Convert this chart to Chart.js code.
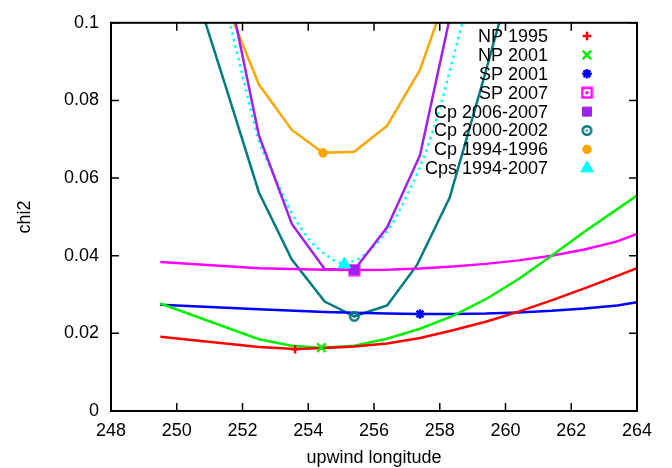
<!DOCTYPE html>
<html>
<head>
<meta charset="utf-8">
<script src="https://cdn.jsdelivr.net/npm/chart.js@4/dist/chart.umd.min.js"></script>
<style>
  html, body { margin: 0; padding: 0; background: #fff; }
  canvas { display: block; }
</style>
</head>
<body>
<canvas id="chi2Chart" width="672" height="468"></canvas>
<script>
// chi2 against upwind longitude, one curve per data set
const seriesLabels = ['NP 1995', 'NP 2001', 'SP 2001', 'SP 2007',
  'Cp 2006-2007', 'Cp 2000-2002', 'Cp 1994-1996', 'Cps 1994-2007'];

const np1995Lon = [249.5, 252.5, 253.6, 254.5, 255.4, 256.4, 257.4, 258.4, 259.4, 260.4, 261.4, 262.4, 263.4, 264];
const np1995Chi2 = [0.0191, 0.0165, 0.0160, 0.0162, 0.0166, 0.0174, 0.0188, 0.0208, 0.0230, 0.0256, 0.0285, 0.0316, 0.0348, 0.0368];

const np2001Lon = [249.5, 252.5, 253.5, 254.4, 255.4, 256.4, 257.4, 258.4, 259.4, 260.4, 261.4, 262.4, 263.4, 264];
const np2001Chi2 = [0.0277, 0.0185, 0.0168, 0.0163, 0.0168, 0.0186, 0.0212, 0.0245, 0.0288, 0.0340, 0.0400, 0.0462, 0.0520, 0.0555];

const spLon = [249.5, 252.5, 254.5, 255.4, 256.4, 257.4, 258.4, 259.4, 260.4, 261.4, 262.4, 263.4, 264];
const sp2001Chi2 = [0.0274, 0.0262, 0.0255, 0.0253, 0.0251, 0.0250, 0.0250, 0.0251, 0.0254, 0.0258, 0.0264, 0.0272, 0.0280];
const sp2007Chi2 = [0.0384, 0.0368, 0.0364, 0.0363, 0.0364, 0.0367, 0.0372, 0.0379, 0.0388, 0.0400, 0.0416, 0.0437, 0.0456];

const cp0607Lon = [251.5, 252.5, 253.5, 254.5, 255.4, 256.4, 257.4, 258.4];
const cp0607Chi2 = [0.112, 0.0710, 0.0482, 0.0366, 0.0363, 0.0473, 0.0659, 0.105];

const cp0002Lon = [250.5, 251.5, 252.5, 253.5, 254.5, 255.4, 256.4, 257.3, 258.3, 259.3, 260.3];
const cp0002Chi2 = [0.110, 0.0833, 0.0563, 0.0390, 0.0282, 0.0244, 0.0272, 0.0375, 0.0549, 0.0845, 0.115];

const cp9496Lon = [251.5, 252.5, 253.5, 254.45, 255.4, 256.4, 257.4, 258.4];
const cp9496Chi2 = [0.105, 0.0841, 0.0724, 0.0665, 0.0668, 0.0735, 0.0879, 0.112];

const cps9407Lon = [251.5, 252, 252.5, 253, 253.5, 254, 254.5, 255, 255.5, 256, 256.5, 257, 257.5, 258, 258.5, 259];
const cps9407Chi2 = [0.104, 0.0865, 0.0698, 0.0600, 0.0510, 0.0445, 0.0405, 0.0382, 0.0390, 0.0425, 0.0475, 0.0555, 0.065, 0.078, 0.094, 0.11];

// best-fit (minimum) point of each set, same order as seriesLabels
const minLon = [253.6, 254.4, 257.4, 255.4, 255.4, 255.4, 254.45, 255.1];
const minChi2 = [0.0159, 0.0163, 0.0250, 0.0363, 0.0363, 0.0244, 0.0665, 0.0378];

const xTicks = [248, 250, 252, 254, 256, 258, 260, 262, 264];
const yTicks = [0, 0.02, 0.04, 0.06, 0.08, 0.1];

const colors = ['#ff0000', '#00f000', '#0000ff', '#ff00ff', '#a020f0', '#007b80', '#ffa500', '#00ffff'];

const chartFont = { family: "'Liberation Sans', Arial, sans-serif", size: 18 };

// gnuplot-like open symbols with a dot in the middle
function ringDot(color) {
  const c = document.createElement('canvas');
  c.width = c.height = 13;
  const g = c.getContext('2d');
  g.strokeStyle = color; g.fillStyle = color; g.lineWidth = 2.4;
  g.beginPath(); g.arc(6.5, 6.5, 4.3, 0, Math.PI * 2); g.stroke();
  g.fillRect(5.5, 5.5, 2, 2);
  return c;
}
function squareDot(color) {
  const c = document.createElement('canvas');
  c.width = c.height = 13;
  const g = c.getContext('2d');
  g.strokeStyle = color; g.fillStyle = color; g.lineWidth = 2.4;
  g.strokeRect(1.7, 1.7, 9.6, 9.6);
  g.fillRect(5, 5, 3, 3);
  return c;
}

const markerStyles = [
  { pointStyle: 'cross', radius: 4.3 },
  { pointStyle: 'crossRot', radius: 6 },
  { pointStyle: 'star', radius: 4.8 },
  { pointStyle: squareDot(colors[3]), radius: 6 },
  { pointStyle: 'rect', radius: 6.4 },
  { pointStyle: ringDot(colors[5]), radius: 6 },
  { pointStyle: 'circle', radius: 4.3 },
  { pointStyle: 'triangle', radius: 7.3 }
];

function pts(xs, ys) {
  return xs.map((x, i) => ({ x: x, y: ys[i] }));
}

const curves = [
  [np1995Lon, np1995Chi2], [np2001Lon, np2001Chi2], [spLon, sp2001Chi2], [spLon, sp2007Chi2],
  [cp0607Lon, cp0607Chi2], [cp0002Lon, cp0002Chi2], [cp9496Lon, cp9496Chi2], [cps9407Lon, cps9407Chi2]
];

const lineSets = curves.map((c, i) => ({
  label: seriesLabels[i] + ' curve',
  data: pts(c[0], c[1]),
  showLine: true,
  borderColor: colors[i],
  backgroundColor: colors[i],
  borderWidth: 2.5,
  borderDash: i === 7 ? [2.5, 4] : [],
  cubicInterpolationMode: i === 7 ? 'monotone' : 'default',
  pointRadius: 0,
  order: 10 + i,
  isCurve: true
}));

const markerSets = seriesLabels.map((name, i) => ({
  label: name,
  data: [{ x: minLon[i], y: minChi2[i] }],
  showLine: false,
  borderColor: colors[i],
  backgroundColor: colors[i],
  pointStyle: markerStyles[i].pointStyle,
  pointRadius: markerStyles[i].radius,
  pointBorderWidth: (i <= 2) ? 2.5 : 1,
  order: 8 - i
}));

// frame around the plot with inward ticks on all four sides
const frameAndTicks = {
  id: 'frameAndTicks',
  afterDatasetsDraw(chart) {
    const { ctx, chartArea: a, scales: { x, y } } = chart;
    const len = 8;
    ctx.save();
    ctx.strokeStyle = '#000';
    ctx.lineWidth = 1.5;
    ctx.beginPath();
    xTicks.forEach(v => {
      const px = x.getPixelForValue(v);
      ctx.moveTo(px, a.bottom); ctx.lineTo(px, a.bottom - len);
      ctx.moveTo(px, a.top); ctx.lineTo(px, a.top + len);
    });
    yTicks.forEach(v => {
      const py = y.getPixelForValue(v);
      ctx.moveTo(a.left, py); ctx.lineTo(a.left + len, py);
      ctx.moveTo(a.right, py); ctx.lineTo(a.right - len, py);
    });
    ctx.stroke();
    ctx.lineWidth = 2;
    ctx.strokeRect(a.left, a.top, a.right - a.left, a.bottom - a.top);
    ctx.restore();
  }
};

// key in the top right corner: text right aligned, symbol after it
const gnuplotKey = {
  id: 'gnuplotKey',
  afterDraw(chart) {
    const ctx = chart.ctx;
    const textRight = 548, symX = 587, top = 36, step = 18.9;
    ctx.save();
    ctx.font = chartFont.size + 'px ' + chartFont.family;
    ctx.textAlign = 'right';
    ctx.textBaseline = 'middle';
    chart.data.datasets.filter(d => !d.isCurve).forEach((d, i) => {
      const yy = top + i * step;
      ctx.fillStyle = '#000';
      ctx.fillText(d.label, textRight, yy + 1);
      ctx.fillStyle = d.backgroundColor;
      ctx.strokeStyle = d.borderColor;
      ctx.lineWidth = d.pointBorderWidth;
      Chart.helpers.drawPoint(ctx, {
        pointStyle: d.pointStyle, radius: d.pointRadius, rotation: 0, borderWidth: d.pointBorderWidth
      }, symX, yy);
    });
    ctx.restore();
  }
};

const chart = new Chart(document.getElementById('chi2Chart'), {
  type: 'scatter',
  data: { datasets: lineSets.concat(markerSets) },
  options: {
    responsive: false,
    animation: false,
    devicePixelRatio: 1,
    layout: { padding: { left: 0, right: 35, top: 17, bottom: 0 } },
    plugins: {
      legend: { display: false },
      tooltip: { enabled: false }
    },
    scales: {
      x: {
        type: 'linear',
        min: 248,
        max: 264,
        afterFit: s => { s.height = 57; },
        afterBuildTicks: s => { s.ticks = xTicks.map(v => ({ value: v })); },
        grid: { display: false, drawTicks: false },
        border: { display: false },
        ticks: { color: '#000', font: chartFont, padding: 9, maxRotation: 0 },
        title: { display: true, text: 'upwind longitude', color: '#000', font: chartFont, padding: { top: 0, bottom: -1 } }
      },
      y: {
        min: 0,
        max: 0.1,
        afterFit: s => { s.width = 111; },
        afterBuildTicks: s => { s.ticks = yTicks.map(v => ({ value: v })); },
        grid: { display: false, drawTicks: false },
        border: { display: false },
        ticks: {
          color: '#000', font: chartFont, padding: 12,
          callback: v => String(+v.toFixed(2))
        },
        title: { display: true, text: 'chi2', color: '#000', font: chartFont, padding: { top: 14, bottom: 0 } }
      }
    }
  },
  plugins: [frameAndTicks, gnuplotKey]
});
</script>
</body>
</html>
